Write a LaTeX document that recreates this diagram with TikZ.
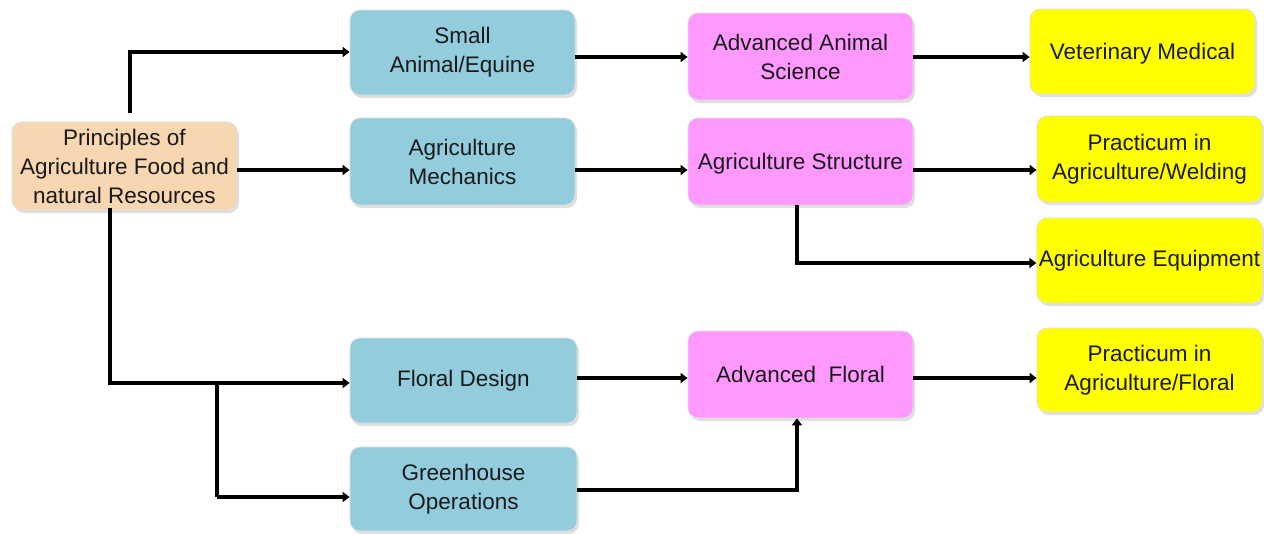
\documentclass[tikz,border=0pt]{standalone}
\usepackage{fontspec}
\setmainfont{Liberation Sans}
\usetikzlibrary{shadows,arrows.meta,calc}
\definecolor{peach}{HTML}{F7D6B2}
\definecolor{bluebox}{HTML}{93CDDD}
\definecolor{pinkbox}{HTML}{FF99FF}
\definecolor{yelbox}{HTML}{FFFF00}
\definecolor{txt}{HTML}{1A1A1A}
\begin{document}
\begin{tikzpicture}[x=1pt,y=-1pt,
  box/.style={rounded corners=10pt, draw=gray!25, line width=0.8pt,
    align=center, text=txt, inner sep=2pt,
    font=\fontsize{22.5pt}{29pt}\selectfont,
    drop shadow={shadow xshift=2pt, shadow yshift=-3pt, opacity=0.35, fill=gray!70}},
  orbox/.style={box, fill=peach},
  blbox/.style={box, fill=bluebox},
  pkbox/.style={box, fill=pinkbox},
  ylbox/.style={box, fill=yelbox},
  arr/.style={line width=4.5pt, -{Triangle[length=7pt,width=10pt]}},
  ln/.style={line width=4.5pt}]
\useasboundingbox (0,0) rectangle (1264,533);
\fill[white] (0,0) rectangle (1264,533);

\node[orbox, minimum width=225pt, minimum height=88pt] (prin) at (124.5,166) {Principles of\\Agriculture Food and\\natural Resources};

\node[blbox, minimum width=225pt, minimum height=85pt] (small) at (462.5,52.5) {Small\\Animal/Equine};
\node[blbox, minimum width=225pt, minimum height=87pt] (mech) at (462.5,161.5) {Agriculture\\Mechanics};
\node[blbox, minimum width=227pt, minimum height=85pt] (floral) at (463.5,380.5) {Floral Design};
\node[blbox, minimum width=227pt, minimum height=84pt] (green) at (463.5,489) {Greenhouse\\Operations};

\node[pkbox, minimum width=225pt, minimum height=87pt] (advanimal) at (800.5,56.5) {Advanced Animal\\Science};
\node[pkbox, minimum width=225pt, minimum height=87pt, text height=21pt] (struct) at (800.5,161.5) {Agriculture Structure};
\node[pkbox, minimum width=225pt, minimum height=87pt] (advfloral) at (800.5,374.5) {Advanced~ Floral};

\node[ylbox, minimum width=225pt, minimum height=85pt, text height=21pt] (vet) at (1142.5,51.5) {Veterinary Medical};
\node[ylbox, minimum width=225pt, minimum height=86pt] (weld) at (1149.5,159) {Practicum in\\Agriculture/Welding};
\node[ylbox, minimum width=225pt, minimum height=85pt] (equip) at (1149.5,260.5) {Agriculture Equipment};
\node[ylbox, minimum width=225pt, minimum height=84pt] (pfloral) at (1149.5,370) {Practicum in\\Agriculture/Floral};

% row coordinates
\coordinate (r1) at (0,57);
\coordinate (r2) at (0,170);
\coordinate (r3) at (0,378);
\coordinate (ptop) at (130,113);
\coordinate (ptopc) at (130,52);
\coordinate (pbot) at (110,208);
\coordinate (pbotc) at (110,383);
\coordinate (gbr) at (217,383);
\coordinate (gbrc) at (217,497);
\coordinate (sx) at (797,0);
\coordinate (eqy) at (0,263);
\coordinate (gy) at (0,490);

% connectors from principles
\draw[arr] (ptop) -- (ptopc) -- (small.west |- ptopc);
\draw[arr] (prin.east |- r2) -- (mech.west |- r2);
\draw[arr] (pbot) -- (pbotc) -- (floral.west |- pbotc);
\draw[ln] (gbr) -- (gbrc);
\draw[arr] (gbrc) -- (green.west |- gbrc);

% second column to third
\draw[arr] (small.east |- r1) -- (advanimal.west |- r1);
\draw[arr] (mech.east |- r2) -- (struct.west |- r2);
\draw[arr] (floral.east |- r3) -- (advfloral.west |- r3);
\draw[arr] (green.east |- gy) -| (sx |- advfloral.south);

% third column to fourth
\draw[arr] (advanimal.east |- r1) -- (vet.west |- r1);
\draw[arr] (struct.east |- r2) -- (weld.west |- r2);
\draw[arr] (sx |- struct.south) |- (equip.west |- eqy);
\draw[arr] (advfloral.east |- r3) -- (pfloral.west |- r3);
\end{tikzpicture}
\end{document}
